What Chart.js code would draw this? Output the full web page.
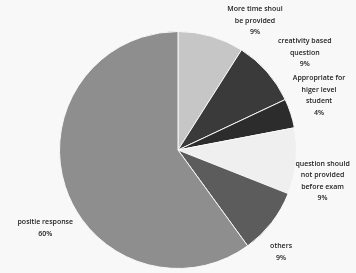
<!DOCTYPE html>
<html>
<head>
<meta charset="utf-8">
<script src="https://cdn.jsdelivr.net/npm/chart.js@4"></script>
<style>
  html, body { margin: 0; padding: 0; background: #f8f8f8; }
  #wrap { width: 356px; height: 273px; position: relative; }
</style>
</head>
<body>
<div id="wrap"><canvas id="pie"></canvas></div>
<script>
// slices, clockwise from 12 o'clock
const categories = [
  ["More time shoul", "be provided"],
  ["creativity based", "question"],
  ["Appropriate for", "higer level", "student"],
  ["question should", "not provided", "before exam"],
  ["others"],
  ["positie response"],
];
const percents = [9, 9, 4, 9, 9, 60];
const sliceColors = ["#c6c6c6", "#3a3a3a", "#2c2c2c", "#efefef", "#5c5c5c", "#8e8e8e"];

// where each label block sits, in units of radius from the pie centre
const labelSpots = [
  [0.65, -1.09],
  [1.07, -0.82],
  [1.19, -0.46],
  [1.22, 0.26],
  [0.87, 0.86],
  [-1.12, 0.66],
];

const labelPlugin = {
  id: "sliceLabels",
  afterDatasetsDraw(chart) {
    const arc = chart.getDatasetMeta(0).data[0];
    const cx = arc.x, cy = arc.y, r = arc.outerRadius;
    const ctx = chart.ctx;
    ctx.save();
    ctx.font = "600 7px 'Open Sans', sans-serif";
    ctx.fillStyle = "#222";
    ctx.textAlign = "center";
    ctx.textBaseline = "middle";
    const lh = 11.5;
    categories.forEach((lines, i) => {
      const all = lines.concat([percents[i] + "%"]);
      const x = cx + labelSpots[i][0] * r;
      const y0 = cy + labelSpots[i][1] * r - (all.length - 1) * lh / 2;
      all.forEach((t, j) => ctx.fillText(t, x, y0 + j * lh));
    });
    ctx.restore();
  },
};

new Chart(document.getElementById("pie"), {
  type: "pie",
  data: {
    labels: categories.map((c) => c.join(" ")),
    datasets: [
      {
        data: percents,
        backgroundColor: sliceColors,
        borderColor: "#f8f8f8",
        borderWidth: 1,
      },
    ],
  },
  options: {
    responsive: true,
    maintainAspectRatio: false,
    animation: false,
    layout: { padding: { top: 31, bottom: 4 } },
    plugins: {
      legend: { display: false },
      tooltip: { enabled: false },
    },
  },
  plugins: [labelPlugin],
});
</script>
</body>
</html>
